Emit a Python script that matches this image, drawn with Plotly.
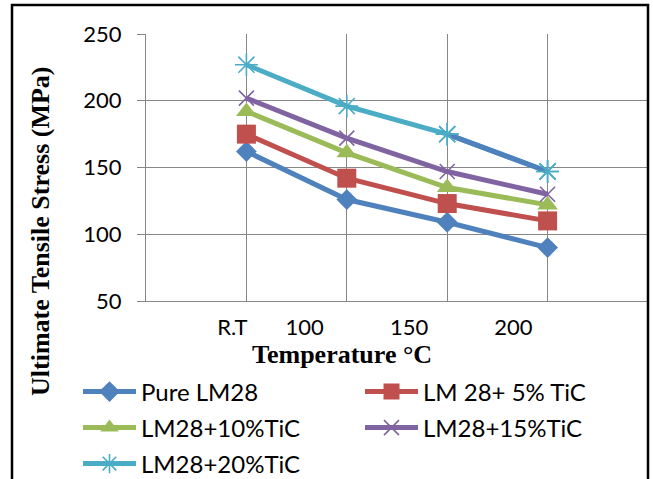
import plotly.graph_objects as go

categories = ["R.T", "100", "150", "200"]
cat_pos = [1, 2, 3, 4]
label_pos = [0.86, 1.58, 2.62, 3.66]

pure = [162, 126, 109, 90]
tic5 = [175, 142, 123, 110]
tic10 = [192, 161, 135, 122]
tic15 = [202, 172, 147, 130]
tic20 = [227, 196, 175, 147]

names = ["Pure LM28", "LM 28+ 5% TiC", "LM28+10%TiC", "LM28+15%TiC", "LM28+20%TiC"]
colors = ["#4F81BD", "#C0504D", "#9BBB59", "#8064A2", "#4BACC6"]

W, H = 653, 479
L, R, T, B = 146, 5, 34, 178
pw, ph = W - L - R, H - T - B


def px(x):
    return (x - L) / pw


def py(y):
    return (H - B - y) / ph


fig = go.Figure()

series = [pure, tic5, tic10, tic15, tic20]
markers = [
    dict(symbol="diamond", size=16, color=colors[0]),
    dict(symbol="square", size=19, color=colors[1]),
    dict(symbol="triangle-up", size=18, color=colors[2]),
    dict(symbol="x-thin", size=15, color=colors[3], line=dict(color=colors[3], width=1.6)),
    dict(symbol="asterisk", size=19, color=colors[4], line=dict(color=colors[4], width=1.6)),
]
legend_ids = ["legend", "legend2", "legend3", "legend4", "legend5"]

for i, (vals, nm) in enumerate(zip(series, names)):
    fig.add_trace(go.Scatter(
        x=cat_pos, y=vals, name=nm, mode="lines+markers",
        line=dict(color=colors[i], width=5),
        marker=markers[i],
        legend=legend_ids[i],
    ))

# the last segment of the 20% series is drawn in blue in the original
fig.add_trace(go.Scatter(
    x=cat_pos[2:], y=tic20[2:], mode="lines", showlegend=False,
    line=dict(color=colors[0], width=5), hoverinfo="skip",
))
fig.add_trace(go.Scatter(
    x=cat_pos[2:], y=tic20[2:], mode="markers", showlegend=False,
    marker=markers[4], hoverinfo="skip",
))

tickfont = dict(family="Lato", size=22, color="black")
grid = "#878787"

fig.update_layout(
    width=W, height=H,
    margin=dict(l=L, r=R, t=T, b=B, autoexpand=False),
    paper_bgcolor="white", plot_bgcolor="white",
    showlegend=True,
    xaxis=dict(range=[0, 5], tickmode="linear", tick0=0, dtick=1,
               showticklabels=False, showgrid=True, gridcolor=grid, gridwidth=1.3,
               showline=True, linecolor=grid, linewidth=1.3, zeroline=False, ticks=""),
    xaxis2=dict(range=[0, 5], overlaying="x", anchor="y", side="bottom",
                tickmode="array", tickvals=label_pos, ticktext=categories,
                showgrid=False, zeroline=False, showline=False, ticks="",
                tickfont=tickfont, ticklabelstandoff=11),
    yaxis=dict(range=[50, 250], tickmode="linear", tick0=50, dtick=50,
               showgrid=True, gridcolor=grid, gridwidth=1.3,
               showline=True, linecolor=grid, linewidth=1.3,
               ticks="outside", ticklen=8, tickcolor=grid, tickwidth=1.3,
               tickfont=tickfont, ticklabelstandoff=11, zeroline=False),
)

# invisible helper trace so xaxis2 is active
fig.add_trace(go.Scatter(x=[0], y=[None], xaxis="x2", showlegend=False, hoverinfo="skip"))

leg_font = dict(family="Lato", size=24, color="black")
leg_pos = [(78, 392), (360, 392), (78, 428), (360, 428), (78, 464)]
for lid, (lx, ly) in zip(legend_ids, leg_pos):
    fig.update_layout({lid: dict(x=px(lx), y=py(ly), xanchor="left", yanchor="middle",
                                 orientation="h", font=leg_font, itemwidth=53,
                                 bgcolor="rgba(0,0,0,0)", borderwidth=0)})

fig.add_annotation(text="<b>Temperature °C</b>", xref="paper", yref="paper",
                   x=px(342), y=py(354), xanchor="center", yanchor="middle", showarrow=False,
                   font=dict(family="Liberation Serif", size=26, color="black"))
fig.add_annotation(text="<b>Ultimate Tensile Stress (MPa)</b>", xref="paper", yref="paper",
                   x=px(40), y=py(231), xanchor="center", yanchor="middle", showarrow=False,
                   textangle=-90,
                   font=dict(family="Liberation Serif", size=26, color="black"))

fig.add_shape(type="rect", xref="paper", yref="paper",
              x0=px(12), x1=px(648), y0=py(495), y1=py(5),
              line=dict(color="black", width=2.5), fillcolor="rgba(0,0,0,0)", layer="above")

fig.write_html("out.html")
